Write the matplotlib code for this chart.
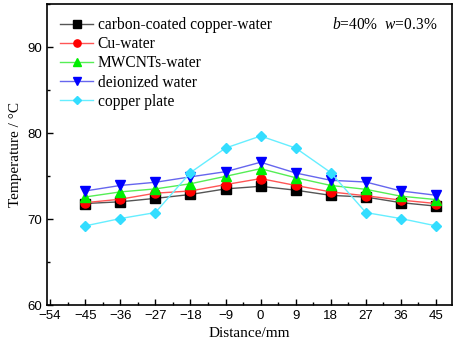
import matplotlib
matplotlib.use("Agg")
import matplotlib.pyplot as plt
from matplotlib.ticker import MultipleLocator

plt.rcParams["mathtext.fontset"] = "custom"
plt.rcParams["mathtext.rm"] = "Liberation Serif"
plt.rcParams["mathtext.it"] = "Liberation Serif:italic"

x = [-45, -36, -27, -18, -9, 0, 9, 18, 27, 36, 45]
carbon = [71.8, 72.0, 72.4, 72.85, 73.5, 73.8, 73.35, 72.75, 72.55, 71.9, 71.5]
cu = [71.9, 72.3, 73.0, 73.26, 74.0, 74.7, 73.9, 73.15, 72.7, 72.2, 71.8]
mwcnt = [72.56, 73.15, 73.5, 74.1, 74.96, 75.85, 74.8, 73.9, 73.45, 72.65, 72.26]
deion = [73.26, 73.9, 74.27, 74.9, 75.5, 76.6, 75.35, 74.5, 74.3, 73.26, 72.76]
plate = [69.2, 70.05, 70.75, 75.4, 78.25, 79.65, 78.25, 75.4, 70.75, 70.05, 69.2]

names = ["carbon-coated copper-water", "Cu-water", "MWCNTs-water", "deionized water", "copper plate"]
series = [carbon, cu, mwcnt, deion, plate]
line_colors = ["#555555", "#ff5555", "#55ee55", "#6666ee", "#66eeff"]
marker_colors = ["#000000", "#ff0000", "#00ee00", "#0000ff", "#33ddff"]
markers = ["s", "o", "^", "v", "D"]
xticks = [-54, -45, -36, -27, -18, -9, 0, 9, 18, 27, 36, 45]
yticks = [60, 70, 80, 90]

fig = plt.figure(figsize=(4.59, 3.47), dpi=100)
ax = fig.add_axes([47/459, 1-305/347, (452-47)/459, (305-4)/347])

for ys, nm, lc, mc, mk in zip(series, names, line_colors, marker_colors, markers):
    ax.plot(x, ys, color=lc, lw=1.0, marker=mk, markersize=6.5 if mk != "D" else 5.5,
            markerfacecolor=mc, markeredgecolor=mc, label=nm)

ax.set_xlim(-54.8, 49.1)
ax.set_ylim(60, 95)
ax.set_xticks(xticks)
ax.set_yticks(yticks)
ax.xaxis.set_minor_locator(MultipleLocator(4.5))
ax.yaxis.set_minor_locator(MultipleLocator(5))
ax.tick_params(which="both", direction="in", top=False, right=False)
ax.tick_params(which="major", length=4, width=1)
ax.tick_params(which="minor", length=2, width=1)
for lab in ax.get_xticklabels() + ax.get_yticklabels():
    lab.set_fontfamily("Liberation Sans")
    lab.set_fontsize(9.5)
for s in ax.spines.values():
    s.set_linewidth(1.2)

ax.set_xlabel("Distance/mm", family="Liberation Serif", fontsize=11)
ax.set_ylabel("Temperature / °C", family="Liberation Serif", fontsize=11)

leg = ax.legend(loc="upper left", frameon=False, prop={"family": "Liberation Serif", "size": 11.2},
                handlelength=2.1, handletextpad=0.32, labelspacing=0.2, borderaxespad=0.5,
                borderpad=0.35, markerscale=0.8)

ax.text(0.965, 0.930, r"$\mathit{b}$=40%  $\mathit{w}$=0.3%", transform=ax.transAxes,
        ha="right", va="center", family="Liberation Serif", fontsize=11.2)

fig.savefig("out.png", dpi=100)
